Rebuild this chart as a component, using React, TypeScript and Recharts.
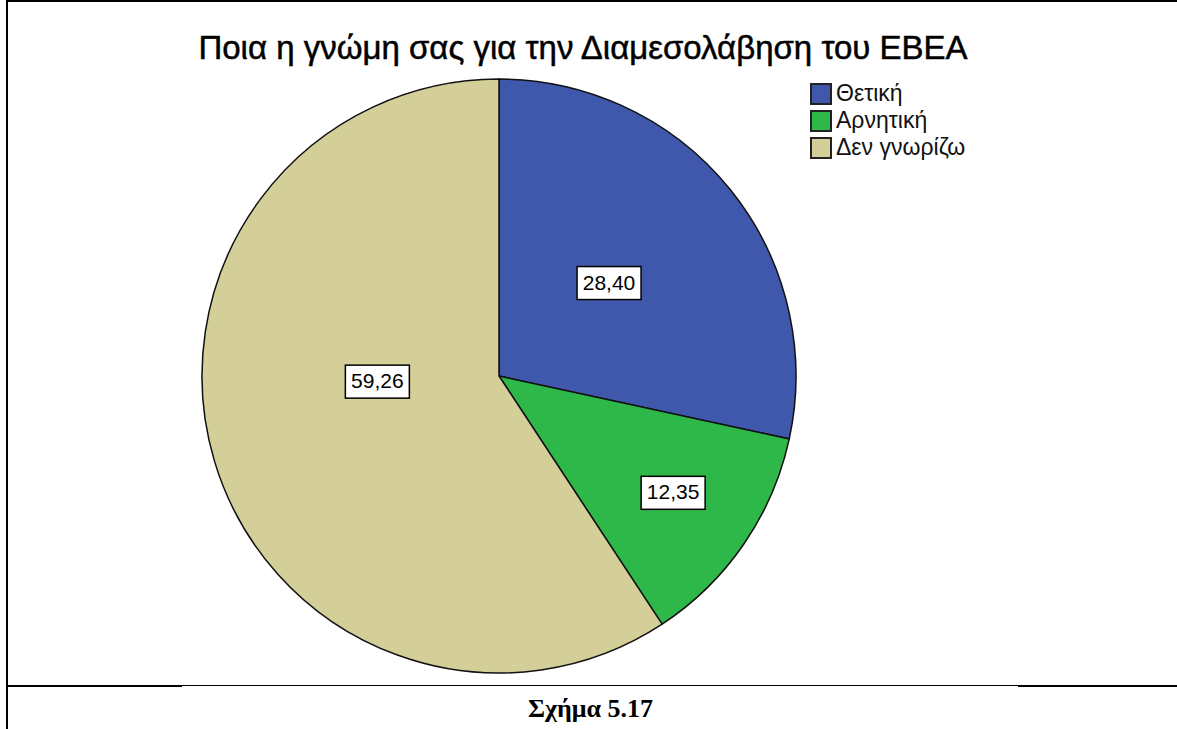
import React from 'react';
import { PieChart, Pie, Cell, Legend } from 'recharts';

const categories = ['Θετική', 'Αρνητική', 'Δεν γνωρίζω'];
const percentages = [28.4, 12.35, 59.26];
const colors = ['#3F58AB', '#2FB84A', '#D4CF98'];
const chartTitle = 'Ποια η γνώμη σας για την Διαμεσολάβηση του ΕΒΕΑ';
const caption = 'Σχήμα 5.17';

// label placement (style): radius fraction and angle shift per slice
const labelRadiusFrac = [0.485, 0.706, 0.41];
const labelAngleShift = [1.3, 0.6, -14];

const data = categories.map((name, i) => ({ name, value: percentages[i] }));

const RAD = Math.PI / 180;
const SANS = "Arial, 'Liberation Sans', sans-serif";

const renderLabel = (props: any) => {
  const { cx, cy, midAngle, outerRadius, index, value } = props;
  const r = outerRadius * labelRadiusFrac[index];
  const a = (midAngle + labelAngleShift[index]) * RAD;
  const x = cx + r * Math.cos(a);
  const y = cy - r * Math.sin(a);
  const w = 64;
  const h = 33;
  const txt = value.toFixed(2).replace('.', ',');
  return (
    <g key={'lbl' + index}>
      <rect x={x - w / 2} y={y - h / 2} width={w} height={h} fill="#fff" stroke="#000" strokeWidth={1.5} />
      <text x={x} y={y + 1} textAnchor="middle" dominantBaseline="middle" fontFamily={SANS} fontSize={21} fill="#000">
        {txt}
      </text>
    </g>
  );
};

const renderLegend = () => (
  <div style={{ fontFamily: SANS, fontSize: 23, color: '#111', lineHeight: '27px' }}>
    {categories.map((c, i) => (
      <div key={c} style={{ display: 'flex', alignItems: 'center', height: 27 }}>
        <span
          style={{
            display: 'inline-block',
            width: 18,
            height: 18,
            background: colors[i],
            border: '2px solid #222',
            marginRight: 4,
            flex: 'none',
          }}
        />
        <span style={{ whiteSpace: 'nowrap' }}>{c}</span>
      </div>
    ))}
  </div>
);

export default function App() {
  return (
    <div style={{ position: 'fixed', left: 0, top: 0, width: 1177, height: 729, background: '#fff', overflow: 'hidden' }}>
      {/* frame lines */}
      <div style={{ position: 'absolute', left: 6, top: 0, width: 2, height: 729, background: '#000' }} />
      <div style={{ position: 'absolute', left: 6, top: 0, width: 1171, height: 2, background: '#000' }} />
      <div style={{ position: 'absolute', left: 6, top: 685, width: 176, height: 2, background: '#000' }} />
      <div style={{ position: 'absolute', left: 182, top: 685, width: 836, height: 1, background: '#000' }} />
      <div style={{ position: 'absolute', left: 1018, top: 685, width: 159, height: 2, background: '#000' }} />
      <div
        style={{
          position: 'absolute',
          left: 0,
          width: 1177,
          top: 694,
          textAlign: 'center',
          fontFamily: "'Times New Roman', 'Liberation Serif', serif",
          fontWeight: 'bold',
          fontSize: 26,
          paddingLeft: 4,
          boxSizing: 'border-box',
        }}
      >
        {caption}
      </div>
      <div
        style={{
          position: 'absolute',
          left: 0,
          width: 1166,
          top: 29,
          textAlign: 'center',
          fontFamily: SANS,
          fontSize: 33,
          color: '#000',
          whiteSpace: 'nowrap',
          WebkitTextStroke: '0.5px #000',
        }}
      >
        {chartTitle}
      </div>
      <div style={{ position: 'absolute', left: 0, top: 0 }}>
        <PieChart width={1177} height={684} margin={{ top: 0, right: 0, bottom: 0, left: 0 }}>
          <Pie
            data={data}
            dataKey="value"
            nameKey="name"
            cx={499}
            cy={376}
            outerRadius={297}
            startAngle={90}
            endAngle={-270}
            stroke="#111"
            strokeWidth={1.5}
            label={renderLabel}
            labelLine={false}
            isAnimationActive={false}
          >
            {data.map((d, i) => (
              <Cell key={d.name} fill={colors[i]} />
            ))}
          </Pie>
          <Legend
            content={renderLegend}
            layout="horizontal"
            verticalAlign="bottom"
            align="left"
            wrapperStyle={{ position: 'absolute', left: 810, top: 80, bottom: 'auto', width: 220 }}
          />
        </PieChart>
      </div>
    </div>
  );
}
